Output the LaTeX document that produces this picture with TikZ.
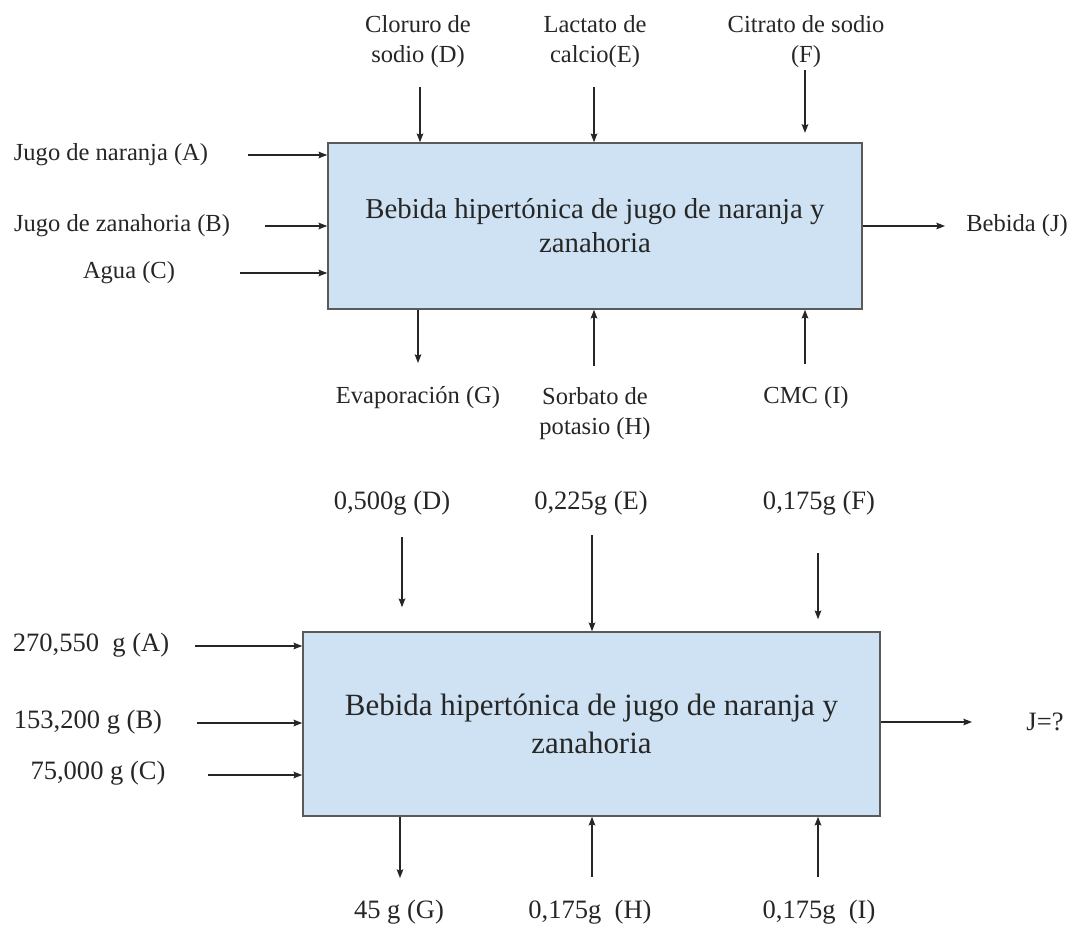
\documentclass[tikz,border=0pt]{standalone}
\usepackage{fontspec}
\setmainfont{Liberation Serif}
\usetikzlibrary{arrows.meta,positioning}

\definecolor{boxfill}{HTML}{CFE2F3}
\definecolor{boxline}{HTML}{5A5A5A}
\definecolor{ink}{HTML}{262626}

\tikzset{
    process/.style={draw=boxline, line width=1.2pt, fill=boxfill, text=ink,
        align=center, inner sep=0pt},
    tag/.style={text=ink, align=center, inner sep=1pt,
        font=\fontsize{18.4}{22.5}\selectfont},
    bigtag/.style={text=ink, align=center, inner sep=1pt,
        font=\fontsize{19.9}{24}\selectfont},
    flow/.style={->, draw=ink, line width=0.9pt}
}

\begin{document}
\begin{tikzpicture}[
        x = 0.75pt, y = -0.75pt, % one unit per pixel, y downwards
        > = {Stealth[length=6.5pt,width=5pt,inset=1pt]}, % arrow head style
        ]
    \useasboundingbox (0,0) rectangle (1072,928);

    % --- first diagram: names ---
    \node[process, minimum width=400.5pt, minimum height=124.5pt,
        font=\fontsize{21.6}{25.5}\selectfont] (top) at (595,226)
        {Bebida hipertónica de jugo de naranja y\\zanahoria};

    \node[tag] (nA) at (111,155) {Jugo de naranja (A)};
    \node[tag] (nB) at (122,226) {Jugo de zanahoria (B)};
    \node[tag] (nC) at (129,273) {Agua (C)};
    \node[tag] (nD) at (418,42) {Cloruro de\\sodio (D)};
    \node[tag] (nE) at (595,42) {Lactato de\\calcio(E)};
    \node[tag] (nF) at (806,42) {Citrato de sodio\\(F)};
    \node[tag] (nJ) at (1017,226) {Bebida (J)};
    \node[tag] (nG) at (418,398) {Evaporación (G)};
    \node[tag] (nH) at (595,414) {Sorbato de\\potasio (H)};
    \node[tag] (nI) at (806,398) {CMC (I)};

    \coordinate (tA) at (248,155);
    \coordinate (tB) at (265,226);
    \coordinate (tC) at (240,273);
    \coordinate (tD) at (420,87);
    \coordinate (tE) at (594,87);
    \coordinate (tF) at (805,70);
    \coordinate (hJ) at (945,226);
    \coordinate (hG) at (418,363);
    \coordinate (tH) at (594,366);
    \coordinate (tI) at (805,364);

    \draw[flow] (tA) -- (tA -| top.west);
    \draw[flow] (tB) -- (tB -| top.west);
    \draw[flow] (tC) -- (tC -| top.west);
    \draw[flow] (tD) -- (tD |- top.north);
    \draw[flow] (tE) -- (tE |- top.north);
    \draw[flow, shorten >=7pt] (tF) -- (tF |- top.north);
    \draw[flow] (hJ -| top.east) -- (hJ);
    \draw[flow] (hG |- top.south) -- (hG);
    \draw[flow] (tH) -- (tH |- top.south);
    \draw[flow] (tI) -- (tI |- top.south);

    % --- second diagram: masses ---
    \node[process, minimum width=432.75pt, minimum height=138pt,
        font=\fontsize{23.2}{28.5}\selectfont] (low) at (591.5,724)
        {Bebida hipertónica de jugo de naranja y\\zanahoria};

    \node[bigtag] (mA) at (91,645) {270,550~~g (A)};
    \node[bigtag] (mB) at (88,722) {153,200 g (B)};
    \node[bigtag] (mC) at (98,773) {75,000 g (C)};
    \node[bigtag] (mD) at (392,503) {0,500g (D)};
    \node[bigtag] (mE) at (591,503) {0,225g (E)};
    \node[bigtag] (mF) at (819,503) {0,175g (F)};
    \node[bigtag] (mJ) at (1045,722) {J=?};
    \node[bigtag] (mG) at (399,912) {45 g (G)};
    \node[bigtag] (mH) at (590,912) {0,175g~~(H)};
    \node[bigtag] (mI) at (819,912) {0,175g~~(I)};

    \coordinate (sA) at (195,646);
    \coordinate (sB) at (197,723);
    \coordinate (sC) at (208,775);
    \coordinate (sD) at (402,537);
    \coordinate (sE) at (592,535);
    \coordinate (sF) at (818,553);
    \coordinate (eJ) at (972,722);
    \coordinate (eG) at (400,878);
    \coordinate (sH) at (592,877);
    \coordinate (sI) at (818,877);

    \draw[flow] (sA) -- (sA -| low.west);
    \draw[flow] (sB) -- (sB -| low.west);
    \draw[flow] (sC) -- (sC -| low.west);
    \draw[flow, shorten >=18pt] (sD) -- (sD |- low.north);
    \draw[flow] (sE) -- (sE |- low.north);
    \draw[flow, shorten >=9pt] (sF) -- (sF |- low.north);
    \draw[flow] (eJ -| low.east) -- (eJ);
    \draw[flow] (eG |- low.south) -- (eG);
    \draw[flow] (sH) -- (sH |- low.south);
    \draw[flow] (sI) -- (sI |- low.south);

\end{tikzpicture}
\end{document}
